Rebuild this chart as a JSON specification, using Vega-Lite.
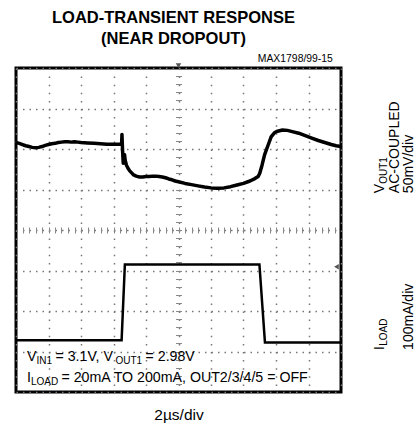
{
  "$schema": "https://vega.github.io/schema/vega-lite/v6.json",
  "width": 325,
  "height": 324,
  "autosize": "none",
  "padding": {"left": 16, "top": 68, "right": 76, "bottom": 37},
  "background": "white",
  "config": {
    "view": {"stroke": "black", "strokeWidth": 3},
    "font": "Liberation Sans, Arial, sans-serif"
  },
  "title": {
    "text": ["LOAD-TRANSIENT RESPONSE", "(NEAR DROPOUT)"],
    "font": "Liberation Sans, Arial, sans-serif",
    "fontSize": 16.5,
    "fontWeight": "bold",
    "lineHeight": 21,
    "color": "black",
    "anchor": "middle",
    "dx": -5,
    "offset": 6
  },
  "resolve": {"axis": {"x": "independent", "y": "independent"}},
  "layer": [
    {
      "data": {"values": [
        {"x": 0.00, "y": 6.16}, {"x": 0.10, "y": 6.14}, {"x": 0.20, "y": 6.11}, {"x": 0.30, "y": 6.08},
        {"x": 0.40, "y": 6.06}, {"x": 0.50, "y": 6.04}, {"x": 0.60, "y": 6.03}, {"x": 0.70, "y": 6.04},
        {"x": 0.80, "y": 6.06}, {"x": 0.90, "y": 6.09}, {"x": 1.00, "y": 6.11}, {"x": 1.10, "y": 6.13},
        {"x": 1.20, "y": 6.14}, {"x": 1.30, "y": 6.16}, {"x": 1.40, "y": 6.17}, {"x": 1.50, "y": 6.18},
        {"x": 1.60, "y": 6.18}, {"x": 1.70, "y": 6.17}, {"x": 1.80, "y": 6.18}, {"x": 1.90, "y": 6.17},
        {"x": 2.00, "y": 6.16}, {"x": 2.20, "y": 6.15}, {"x": 2.40, "y": 6.14}, {"x": 2.60, "y": 6.13},
        {"x": 2.80, "y": 6.12}, {"x": 3.00, "y": 6.12}, {"x": 3.20, "y": 6.12}, {"x": 3.25, "y": 6.12},
        {"x": 3.26, "y": 6.36}, {"x": 3.28, "y": 5.95}, {"x": 3.30, "y": 5.65}, {"x": 3.32, "y": 5.80},
        {"x": 3.34, "y": 5.86}, {"x": 3.36, "y": 5.72}, {"x": 3.40, "y": 5.60}, {"x": 3.45, "y": 5.52},
        {"x": 3.50, "y": 5.46}, {"x": 3.56, "y": 5.41}, {"x": 3.62, "y": 5.36}, {"x": 3.70, "y": 5.33},
        {"x": 3.80, "y": 5.31}, {"x": 3.90, "y": 5.31}, {"x": 4.00, "y": 5.32}, {"x": 4.10, "y": 5.32},
        {"x": 4.20, "y": 5.33}, {"x": 4.30, "y": 5.33}, {"x": 4.40, "y": 5.32}, {"x": 4.50, "y": 5.31},
        {"x": 4.60, "y": 5.29}, {"x": 4.70, "y": 5.26}, {"x": 4.80, "y": 5.24}, {"x": 4.90, "y": 5.21},
        {"x": 5.00, "y": 5.19}, {"x": 5.20, "y": 5.15}, {"x": 5.40, "y": 5.12}, {"x": 5.60, "y": 5.09},
        {"x": 5.80, "y": 5.06}, {"x": 6.00, "y": 5.04}, {"x": 6.20, "y": 5.03}, {"x": 6.40, "y": 5.04},
        {"x": 6.60, "y": 5.07}, {"x": 6.80, "y": 5.11}, {"x": 7.00, "y": 5.15}, {"x": 7.20, "y": 5.21},
        {"x": 7.35, "y": 5.27}, {"x": 7.45, "y": 5.32}, {"x": 7.50, "y": 5.40}, {"x": 7.57, "y": 5.60},
        {"x": 7.65, "y": 5.86}, {"x": 7.75, "y": 6.08}, {"x": 7.85, "y": 6.30}, {"x": 7.95, "y": 6.40},
        {"x": 8.05, "y": 6.44}, {"x": 8.20, "y": 6.47}, {"x": 8.35, "y": 6.46}, {"x": 8.50, "y": 6.43},
        {"x": 8.70, "y": 6.39}, {"x": 8.90, "y": 6.33}, {"x": 9.10, "y": 6.27}, {"x": 9.30, "y": 6.21},
        {"x": 9.50, "y": 6.16}, {"x": 9.70, "y": 6.11}, {"x": 9.85, "y": 6.08}, {"x": 10.00, "y": 6.06}
      ]},
      "mark": {"type": "line", "color": "black", "strokeWidth": 3.5, "strokeJoin": "round"},
      "encoding": {
        "x": {"field": "x", "type": "quantitative",
          "scale": {"domain": [0, 10], "nice": false, "zero": false},
          "axis": {"orient": "bottom", "values": [0,1,2,3,4,5,6,7,8,9,10], "grid": true,
            "gridDash": [1.5, 6.6], "gridColor": "#777", "gridWidth": 1.5,
            "ticks": false, "labels": false, "domain": false,
            "title": "2µs/div", "titleFont": "Liberation Sans, Arial, sans-serif", "titleFontSize": 15.5, "titleFontWeight": "normal", "titleColor": "black",
            "titlePadding": 15}},
        "y": {"field": "y", "type": "quantitative",
          "scale": {"domain": [0, 8], "nice": false, "zero": false},
          "axis": {"orient": "left", "values": [0,1,2,3,4,5,6,7,8], "grid": true,
            "gridDash": [1.5, 5], "gridColor": "#777", "gridWidth": 1.5,
            "ticks": false, "labels": false, "domain": false, "title": null}}
      }
    },
    {
      "data": {"values": [
        {"x": 0.00, "y": 1.28}, {"x": 1.00, "y": 1.28}, {"x": 2.00, "y": 1.28}, {"x": 3.25, "y": 1.28},
        {"x": 3.35, "y": 3.15}, {"x": 5.00, "y": 3.15}, {"x": 7.49, "y": 3.15},
        {"x": 7.66, "y": 1.22}, {"x": 9.00, "y": 1.22}, {"x": 10.00, "y": 1.22}
      ]},
      "mark": {"type": "line", "color": "black", "strokeWidth": 2.5},
      "encoding": {
        "x": {"field": "x", "type": "quantitative", "axis": null},
        "y": {"field": "y", "type": "quantitative", "axis": null}
      }
    },
    {
      "mark": {"type": "rule", "color": "#999", "strokeWidth": 1},
      "encoding": {
        "x": {"datum": 0, "type": "quantitative",
          "axis": {"orient": "bottom", "offset": -165, "tickSize": 6, "tickColor": "#888", "tickWidth": 1,
            "labels": false, "domain": false, "grid": false, "title": null,
            "values": [0.2,0.4,0.6,0.8,1,1.2,1.4,1.6,1.8,2,2.2,2.4,2.6,2.8,3,3.2,3.4,3.6,3.8,4,4.2,4.4,4.6,4.8,5,5.2,5.4,5.6,5.8,6,6.2,6.4,6.6,6.8,7,7.2,7.4,7.6,7.8,8,8.2,8.4,8.6,8.8,9,9.2,9.4,9.6,9.8]}},
        "x2": {"datum": 10},
        "y": {"datum": 4, "type": "quantitative", "axis": null}
      }
    },
    {
      "mark": {"type": "rule", "color": "#999", "strokeWidth": 1},
      "encoding": {
        "y": {"datum": 0, "type": "quantitative",
          "axis": {"orient": "left", "offset": -165.5, "tickSize": 6, "tickColor": "#888", "tickWidth": 1,
            "labels": false, "domain": false, "grid": false, "title": null,
            "values": [0.2,0.4,0.6,0.8,1,1.2,1.4,1.6,1.8,2,2.2,2.4,2.6,2.8,3,3.2,3.4,3.6,3.8,4,4.2,4.4,4.6,4.8,5,5.2,5.4,5.6,5.8,6,6.2,6.4,6.6,6.8,7,7.2,7.4,7.6,7.8]}},
        "y2": {"datum": 8},
        "x": {"datum": 5, "type": "quantitative", "axis": null}
      }
    },
    {
      "data": {"values": [
        {"t": "V", "x": 0.34, "y": 0.765},
        {"t": "= 3.1V, V", "x": 1.215, "y": 0.765},
        {"t": "= 2.98V", "x": 3.985, "y": 0.765},
        {"t": "I", "x": 0.34, "y": 0.247},
        {"t": "= 20mA TO 200mA, OUT2/3/4/5 = OFF", "x": 1.40, "y": 0.247}
      ]},
      "mark": {"type": "text", "fontSize": 14.2, "align": "left", "baseline": "alphabetic", "color": "black"},
      "encoding": {
        "x": {"field": "x", "type": "quantitative", "axis": null},
        "y": {"field": "y", "type": "quantitative", "axis": null},
        "text": {"field": "t"}
      }
    },
    {
      "data": {"values": [
        {"t": "IN1", "x": 0.63, "y": 0.70},
        {"t": "OUT1", "x": 3.06, "y": 0.70},
        {"t": "LOAD", "x": 0.46, "y": 0.18}
      ]},
      "mark": {"type": "text", "fontSize": 10, "align": "left", "baseline": "alphabetic", "color": "black"},
      "encoding": {
        "x": {"field": "x", "type": "quantitative", "axis": null},
        "y": {"field": "y", "type": "quantitative", "axis": null},
        "text": {"field": "t"}
      }
    },
    {
      "data": {"values": [
        {"t": "V", "x": 11.32, "y": 4.91},
        {"t": "AC-COUPLED", "x": 11.77, "y": 4.91},
        {"t": "50mV/div", "x": 12.22, "y": 4.91},
        {"t": "I", "x": 11.32, "y": 1.04},
        {"t": "100mA/div", "x": 12.22, "y": 1.04}
      ]},
      "mark": {"type": "text", "fontSize": 14, "angle": 270, "align": "left", "baseline": "alphabetic", "color": "black"},
      "encoding": {
        "x": {"field": "x", "type": "quantitative", "axis": null},
        "y": {"field": "y", "type": "quantitative", "axis": null},
        "text": {"field": "t"}
      }
    },
    {
      "data": {"values": [
        {"t": "OUT1", "x": 11.41, "y": 5.14},
        {"t": "LOAD", "x": 11.41, "y": 1.14}
      ]},
      "mark": {"type": "text", "fontSize": 10, "angle": 270, "align": "left", "baseline": "alphabetic", "color": "black"},
      "encoding": {
        "x": {"field": "x", "type": "quantitative", "axis": null},
        "y": {"field": "y", "type": "quantitative", "axis": null},
        "text": {"field": "t"}
      }
    },
    {
      "data": {"values": [{"t": "MAX1798/99-15", "x": 9.75, "y": 8.15}]},
      "mark": {"type": "text", "fontSize": 10.4, "align": "right", "baseline": "alphabetic", "color": "black"},
      "encoding": {
        "x": {"field": "x", "type": "quantitative", "axis": null},
        "y": {"field": "y", "type": "quantitative", "axis": null},
        "text": {"field": "t"}
      }
    },
    {
      "data": {"values": [{"x": 9.86, "y": 3.09, "s": "triangle-left"}, {"x": 5.0, "y": 8.06, "s": "triangle-down"}]},
      "mark": {"type": "point", "filled": true, "size": 30, "color": "#555", "opacity": 1},
      "encoding": {
        "x": {"field": "x", "type": "quantitative", "axis": null},
        "y": {"field": "y", "type": "quantitative", "axis": null},
        "shape": {"field": "s", "type": "nominal", "scale": null, "legend": null}
      }
    }
  ]
}
